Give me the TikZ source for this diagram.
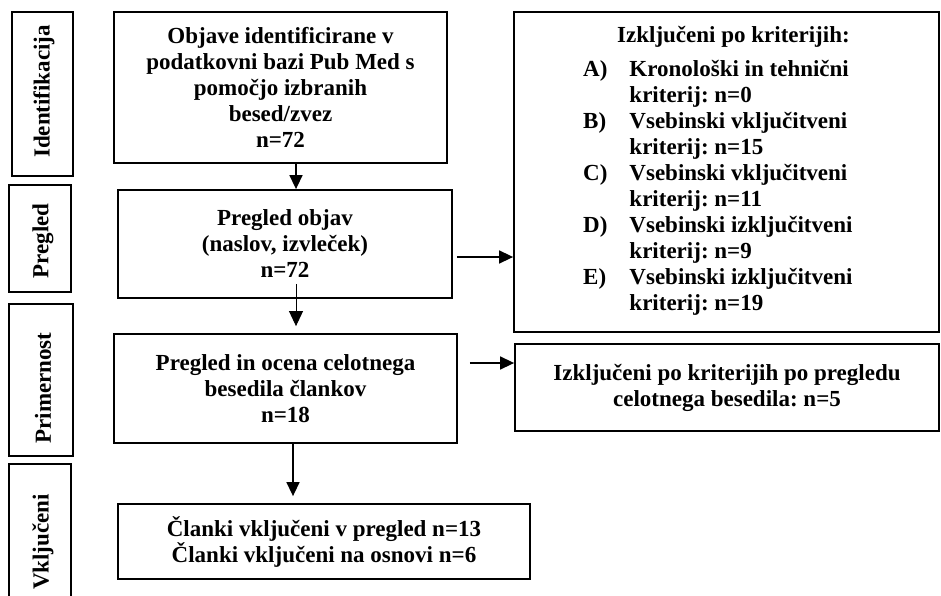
\documentclass[tikz,border=0pt]{standalone}
\usepackage{fontspec}
\setmainfont{Liberation Serif}
\usetikzlibrary{arrows.meta}
\begin{document}
\frenchspacing
\begin{tikzpicture}[x=1pt,y=-1pt,
  box/.style={draw,line width=1.8pt,inner sep=0pt,align=center,font=\bfseries\fontsize{23}{26}\selectfont},
  side/.style={draw,line width=1.8pt,inner sep=0pt},
  sidetext/.style={rotate=90,inner sep=0pt,font=\bfseries\fontsize{23}{26}\selectfont},
  arr/.style={line width=1.5pt,-{Triangle[length=14pt,width=13pt]}},
  thinarr/.style={line width=0.9pt,-{Triangle[length=15pt,width=14pt]}}
]
\useasboundingbox (0,0) rectangle (941,596);
% side boxes
\node[side,minimum width=61pt,minimum height=164pt] (s1) at (42.5,94) {};
\node[side,minimum width=62pt,minimum height=107pt] (s2) at (40,238.5) {};
\node[side,minimum width=64pt,minimum height=152pt] (s3) at (41,380) {};
\node[side,minimum width=62pt,minimum height=146pt] (s4) at (40,537) {};
\node[sidetext] (t1) at (44,91.5) {Identifikacija};
\node[sidetext] (t2) at (43,241) {Pregled};
\node[sidetext] (t3) at (43,388) {Primernost};
\node[sidetext] (t4) at (43,542) {Vključeni};
% main boxes
\node[box,minimum width=333pt,minimum height=151pt] (b1) at (280.5,87.5)
  {Objave identificirane v\\podatkovni bazi Pub Med s\\pomočjo izbranih\\besed/zvez\\n=72};
\node[box,minimum width=334pt,minimum height=108pt] (b2) at (285,244)
  {Pregled objav\\(naslov, izvleček)\\n=72};
\node[box,minimum width=343pt,minimum height=109pt] (b3) at (285.5,388.5)
  {Pregled in ocena celotnega\\besedila člankov\\n=18};
\node[box,minimum width=412pt,minimum height=75pt] (b4) at (324,541.5)
  {Članki vključeni v pregled n=13\\Članki vključeni na osnovi n=6};
\node[box,minimum width=425pt,minimum height=320pt] (r1) at (726.5,172) {};
\node[inner sep=0pt,font=\bfseries\fontsize{23}{26}\selectfont,anchor=north west] (r1t) at (583,24)
  {\begin{tabular}{@{}l@{\hspace{22pt}}l@{}}
   \multicolumn{2}{@{}l@{}}{\hspace{34pt}Izključeni po kriterijih:}\\[8pt]
   A) & Kronološki in tehnični\\
      & kriterij: n=0\\
   B) & Vsebinski vključitveni\\
      & kriterij: n=15\\
   C) & Vsebinski vključitveni\\
      & kriterij: n=11\\
   D) & Vsebinski izključitveni\\
      & kriterij: n=9\\
   E) & Vsebinski izključitveni\\
      & kriterij: n=19
  \end{tabular}};
\node[box,minimum width=424pt,minimum height=87pt] (r2) at (727,387.5)
  {Izključeni po kriterijih po pregledu\\celotnega besedila: n=5};
% arrows
\draw[arr] ([xshift=15.5pt]b1.south) -- ([xshift=11pt]b2.north);
\draw[thinarr,shorten >=7pt] ([xshift=11pt,yshift=15pt]b2.south) -- ([xshift=10.5pt]b3.north);
\draw[arr,shorten >=7pt] ([xshift=7.5pt]b3.south) -- ([xshift=-31pt]b4.north);
\draw[arr] ([xshift=4pt,yshift=-13pt]b2.east) coordinate (s4a) -- (s4a -| r1.west);
\draw[arr] ([xshift=12pt,yshift=25.5pt]b3.east) coordinate (s5a) -- (s5a -| r2.west);
\end{tikzpicture}
\end{document}
